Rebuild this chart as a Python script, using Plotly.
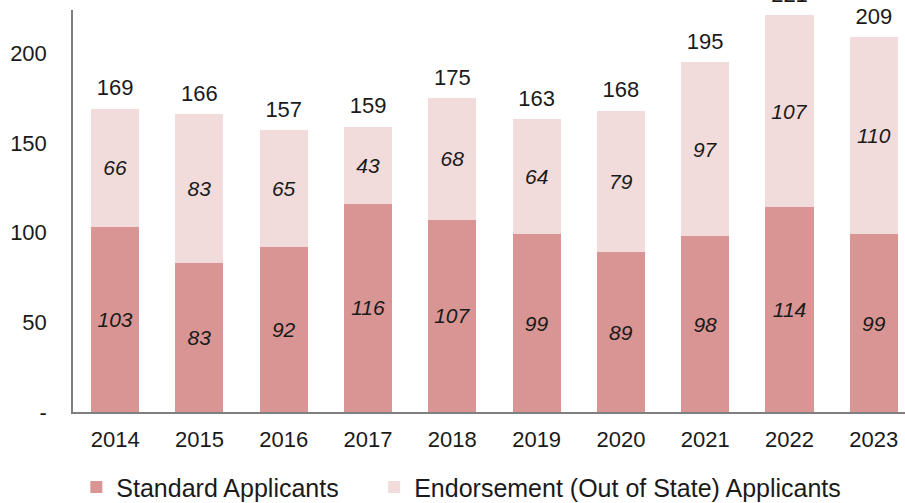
import plotly.graph_objects as go

years = ["2014", "2015", "2016", "2017", "2018", "2019", "2020", "2021", "2022", "2023"]
standard = [103, 83, 92, 116, 107, 99, 89, 98, 114, 99]
endorsement = [66, 83, 65, 43, 68, 64, 79, 97, 107, 110]
totals = [s + e for s, e in zip(standard, endorsement)]
ytick_vals = [0, 50, 100, 150, 200]
ytick_text = ["-", "50", "100", "150", "200"]

FONT = "Liberation Sans, Arial, sans-serif"
INK = "#1a1a1a"

fig = go.Figure()
fig.add_trace(go.Bar(
    x=years, y=standard, name="Standard Applicants", legend="legend",
    marker=dict(color="#D99594", line=dict(width=0)),
    text=[str(v) for v in standard], textposition="inside",
    insidetextanchor="middle", textangle=0, constraintext="none",
    textfont=dict(family=FONT, size=21, color=INK, style="italic"),
    hoverinfo="skip",
))
fig.add_trace(go.Bar(
    x=years, y=endorsement, name="Endorsement (Out of State) Applicants",
    legend="legend2",
    marker=dict(color="#F2DCDB", line=dict(width=0)),
    text=[str(v) for v in endorsement], textposition="inside",
    insidetextanchor="middle", textangle=0, constraintext="none",
    textfont=dict(family=FONT, size=21, color=INK, style="italic"),
    hoverinfo="skip",
))
fig.add_trace(go.Scatter(
    x=years, y=totals, mode="markers+text", text=[str(v) for v in totals],
    textposition="top center", showlegend=False, cliponaxis=False,
    marker=dict(size=11, opacity=0),
    textfont=dict(family=FONT, size=22, color=INK),
    hoverinfo="skip",
))

legend_common = dict(
    orientation="h", xanchor="left", yanchor="middle", y=-0.187,
    font=dict(family=FONT, size=25, color=INK),
    bgcolor="rgba(0,0,0,0)", itemsizing="constant",
)

fig.update_layout(
    width=905, height=503,
    margin=dict(l=73, r=0, t=10, b=91, autoexpand=False),
    barmode="stack", bargap=0.43,
    plot_bgcolor="white", paper_bgcolor="white",
    font=dict(family=FONT, size=21, color=INK),
    legend=dict(x=0.004, **legend_common),
    legend2=dict(x=0.362, **legend_common),
    showlegend=True,
)
fig.update_xaxes(
    range=[-0.5, 9.37], showline=True, linecolor="#7f7f7f", linewidth=1.5,
    showgrid=False, ticks="", ticklabelstandoff=7,
    tickfont=dict(family=FONT, size=22, color=INK),
)
fig.update_yaxes(
    range=[0, 224], showline=True, linecolor="#7f7f7f", linewidth=1.5,
    showgrid=False, zeroline=False, ticks="",
    tickvals=ytick_vals, ticktext=ytick_text, ticklabelstandoff=20,
    tickfont=dict(family=FONT, size=22, color=INK),
)

fig.write_html(
    "out.html",
    config={"displayModeBar": False},
    post_script="document.body.style.margin='0';document.body.style.overflow='hidden';",
)
